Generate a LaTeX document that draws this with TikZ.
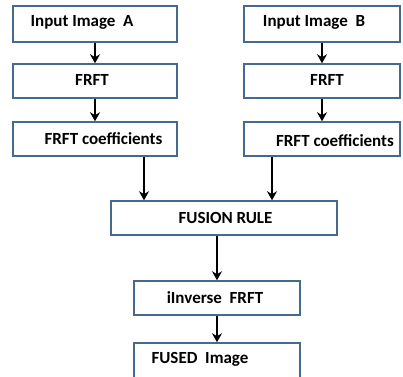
\documentclass[tikz,border=0pt]{standalone}
\usepackage{fontspec}
\setmainfont{Carlito}
\usetikzlibrary{positioning,arrows.meta}
\definecolor{boxline}{HTML}{46698F}
\tikzset{blk/.style={draw=boxline, line width=1.5pt},
txt/.style={font=\bfseries\fontsize{17}{19}\selectfont},
flow/.style={-{Stealth[length=9pt,width=10pt]}, line width=2pt}}

\begin{document}
\begin{tikzpicture}[x=1pt,y=-1pt]
\useasboundingbox (0,0) rectangle (403,376);
\clip (0,0) rectangle (403,376);
\node[blk, minimum width=164pt, minimum height=36pt] (inA) at (95,24) {};
\node[blk, minimum width=164pt, minimum height=34pt] (frA) at (95,81) {};
\node[blk, minimum width=164pt, minimum height=34pt] (coA) at (95,139) {};
\node[blk, minimum width=156pt, minimum height=36pt] (inB) at (322,24) {};
\node[blk, minimum width=156pt, minimum height=34pt] (frB) at (322,81) {};
\node[blk, minimum width=156pt, minimum height=34pt] (coB) at (322,139) {};
\node[blk, minimum width=226pt, minimum height=34pt] (fus) at (224,218) {};
\node[blk, minimum width=166pt, minimum height=34pt] (inv) at (217,298) {};
\node[blk, minimum width=166pt, minimum height=44pt] (out) at (217,365) {};
% texts
\node[txt] at (82,22) {Input Image\ \ A};
\node[txt] at (92,80) {FRFT};
\node[txt] at (103.5,139) {FRFT coefficients};
\node[txt] at (314,22) {Input Image\ \ B};
\node[txt] at (327,80) {FRFT};
\node[txt] at (335,141) {FRFT coefficients};
\node[txt] at (225.5,218) {FUSION RULE};
\node[txt] at (215,298) {iInverse\ \ FRFT};
\node[txt] at (200,359) {FUSED\ \ Image};
% arrows
\draw[flow] (inA) -- (frA);
\draw[flow] (frA) -- (coA);
\draw[flow] (inB) -- (frB);
\draw[flow] (frB) -- (coB);
\draw[flow] ([xshift=49pt]coA.south) -- ([xshift=49pt]coA.south |- fus.north);
\draw[flow] ([xshift=-50pt]coB.south) -- ([xshift=-50pt]coB.south |- fus.north);
\draw[flow] (inv.north |- fus.south) -- (inv.north);
\draw[flow] (inv) -- (out);
\end{tikzpicture}
\end{document}
